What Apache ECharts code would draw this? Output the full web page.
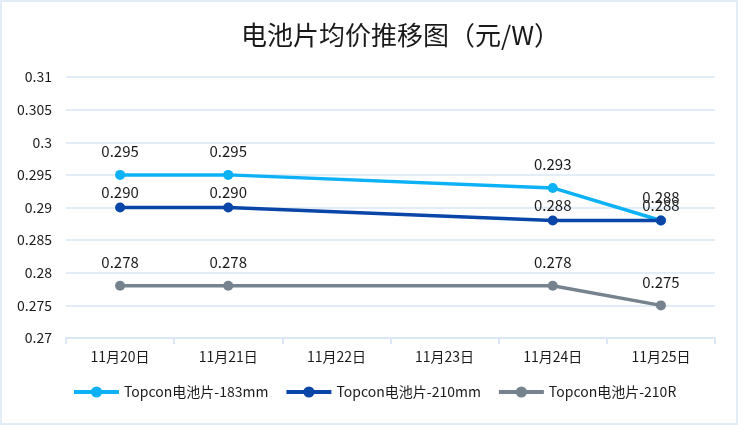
<!DOCTYPE html>
<html>
<head>
<meta charset="utf-8">
<script src="https://cdn.jsdelivr.net/npm/echarts@6/dist/echarts.min.js"></script>
<style>
html,body{margin:0;padding:0;background:#fff;}
#wrap{position:absolute;left:0;top:0;width:738px;height:425px;box-sizing:border-box;border:2px solid #e3edf8;}
#chart{position:absolute;left:0;top:0;width:734px;height:421px;}
</style>
</head>
<body>
<div id="wrap"><div id="chart"></div></div>
<script>
var categories = ['11月20日','11月21日','11月22日','11月23日','11月24日','11月25日'];
var seriesNames = ['Topcon电池片-183mm','Topcon电池片-210mm','Topcon电池片-210R'];
var s183 = [0.295, 0.295, null, null, 0.293, 0.288];
var s210 = [0.290, 0.290, null, null, 0.288, 0.288];
var s210R = [0.278, 0.278, null, null, 0.278, 0.275];
var colors = ['#0db1f5','#0a45a8','#76838f'];

var font = '"Noto Sans CJK SC", "Microsoft YaHei", sans-serif';
var chart = echarts.init(document.getElementById('chart'));
function mk(name, data, color, dist){
  return {
    name: name, type: 'line', data: data, connectNulls: true,
    symbol: 'circle', symbolSize: 10,
    lineStyle: {width: 3.5, color: color},
    itemStyle: {color: color},
    label: {show: true, position: 'top', distance: dist, color: '#1a1a1a', fontSize: 15, fontFamily: font,
      formatter: function(p){ return p.value == null ? '' : Number(p.value).toFixed(3); }}
  };
}
chart.setOption({
  animation: false,
  title: {text: '电池片均价推移图（元/W）', left: 234, top: 15,
    textStyle: {fontSize: 26, fontWeight: 'normal', color: '#1a1a1a', fontFamily: font}},
  grid: {left: 64, right: 21, top: 75, bottom: 85},
  legend: {left: 65, top: 378, itemWidth: 45, itemHeight: 14, itemGap: 16,
    lineStyle: {width: 4},
    textStyle: {fontSize: 14, color: '#1a1a1a', fontFamily: font},
    data: seriesNames},
  xAxis: {type: 'category', data: categories, boundaryGap: true,
    axisLine: {lineStyle: {color: '#dbe7f5', width: 2}},
    axisTick: {show: true, length: 6, lineStyle: {color: '#dbe7f5', width: 2}},
    axisLabel: {fontSize: 14, color: '#1a1a1a', fontFamily: font, margin: 12}},
  yAxis: {type: 'value', min: 0.27, max: 0.31, interval: 0.005,
    axisLine: {show: false}, axisTick: {show: false},
    splitLine: {lineStyle: {color: '#e3edf8', width: 2}},
    axisLabel: {fontSize: 14, color: '#1a1a1a', fontFamily: font, margin: 14}},
  series: [
    mk(seriesNames[0], s183, colors[0], 11),
    mk(seriesNames[1], s210, colors[1], 3),
    mk(seriesNames[2], s210R, colors[2], 11)
  ]
});
</script>
</body>
</html>
